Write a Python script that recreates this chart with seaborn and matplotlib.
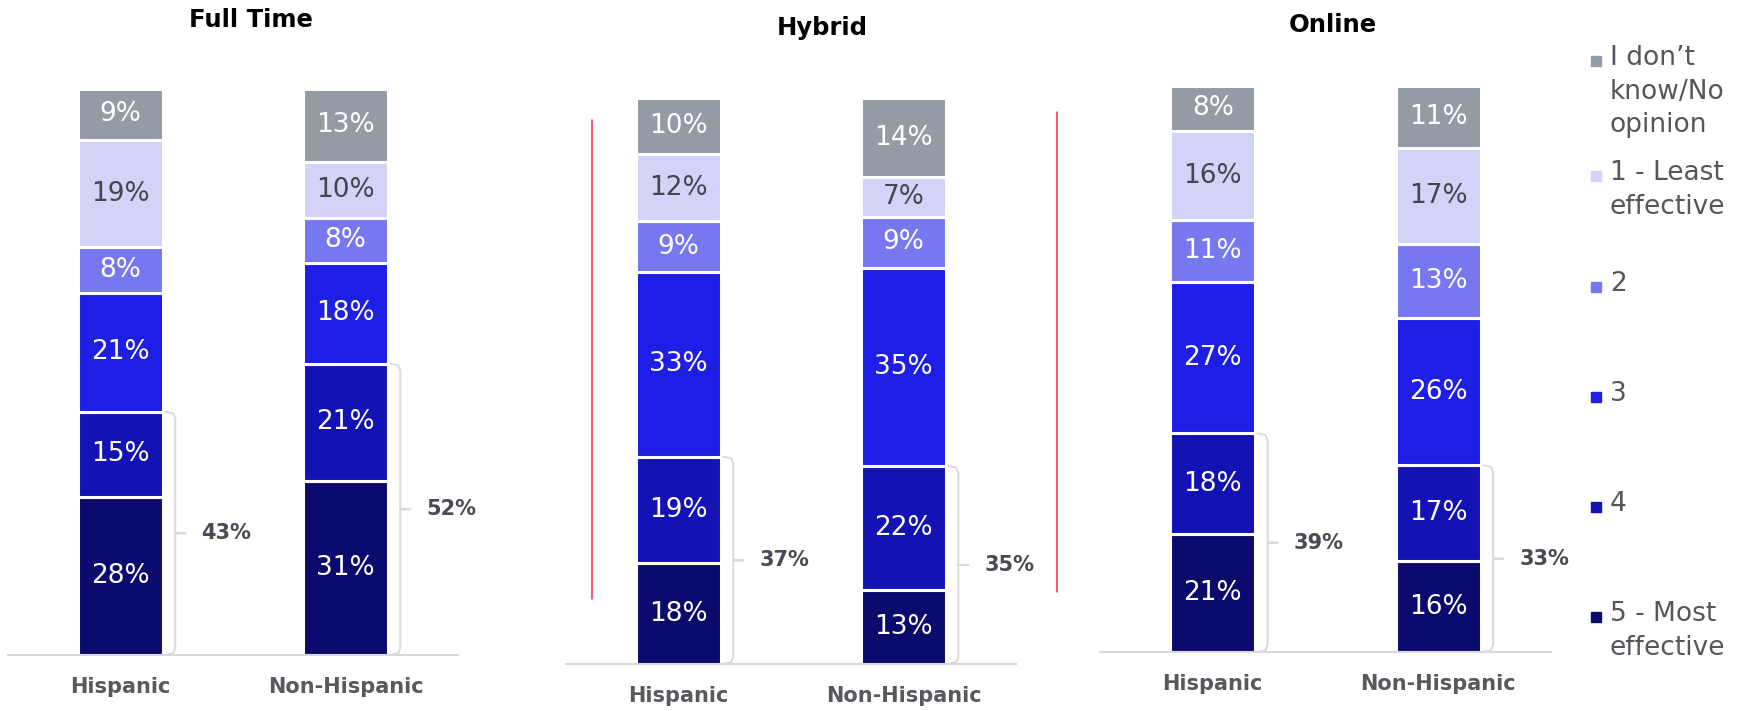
import numpy as np
import pandas as pd
import matplotlib
matplotlib.use('Agg')
import matplotlib.pyplot as plt
import seaborn as sns
from matplotlib.lines import Line2D
from matplotlib.patches import Rectangle

sns.set_style('white')
plt.rcParams['font.family'] = ['DejaVu Sans']

W, H = 1740, 711

groups = ['Hispanic', 'Non-Hispanic']
panels = ['Full Time', 'Hybrid', 'Online']
# stack order, bottom to top
levels = ['5 - Most\neffective', '4', '3', '2', '1 - Least\neffective',
          'I don\u2019t\nknow/No\nopinion']
colors = ['#0b0b6e', '#1313b5', '#1e1ee6', '#7777ef', '#d3d3f9', '#959ba5']
text_colors = ['white', 'white', 'white', 'white', '#45454d', 'white']

# % per level (bottom to top), [Hispanic, Non-Hispanic]
full_time = [[28, 31], [15, 21], [21, 18], [8, 8], [19, 10], [9, 13]]
hybrid = [[18, 13], [19, 22], [33, 35], [9, 9], [12, 7], [10, 14]]
online = [[21, 16], [18, 17], [27, 26], [11, 13], [16, 17], [8, 11]]
panel_data = [full_time, hybrid, online]

# panel placement in pixels: left, right, baseline, title position
layout = [
    dict(x0=8, x1=458, base=655, title=(251, 20)),
    dict(x0=566, x1=1016, base=664, title=(822, 28)),
    dict(x0=1100, x1=1551, base=652, title=(1333, 25)),
]
PX = 5.66      # pixels per percentage point
YMAX = 110
BW = 0.377

fig = plt.figure(figsize=(W / 100, H / 100), dpi=100)

for name, data, lay in zip(panels, panel_data, layout):
    ax = fig.add_axes([lay['x0'] / W, (H - lay['base']) / H,
                       (lay['x1'] - lay['x0']) / W, YMAX * PX / H])
    vals_arr = np.array(data, dtype=float)
    # rounded labels do not always add to 100; bars are drawn as 100% stacks
    heights = vals_arr / vals_arr.sum(axis=0) * 100
    bottom = np.zeros(len(groups))
    for k, (col, tcol) in enumerate(zip(colors, text_colors)):
        df = pd.DataFrame({'group': groups, 'share': heights[k]})
        sns.barplot(data=df, x='group', y='share', color=col, saturation=1,
                    width=BW, errorbar=None, bottom=bottom, edgecolor='white',
                    linewidth=2.2, ax=ax)
        for i, v in enumerate(data[k]):
            ax.text(i, bottom[i] + heights[k][i] / 2, f'{v}%', ha='center',
                    va='center', fontsize=19, color=tcol)
        bottom = bottom + heights[k]

    # brackets around the two top-box levels (4 and 5)
    for i in range(len(groups)):
        top = heights[0][i] + heights[1][i]
        mid = top / 2
        r = i + BW / 2
        xs = [r + 0.01, r + 0.045, r + 0.055, r + 0.055, r + 0.1, r + 0.055,
              r + 0.055, r + 0.045, r + 0.01]
        ys = [top, top - 0.3, top - 1.2, mid, mid, mid, 1.2, 0.3, 0]
        ax.plot(xs, ys, color='#dadada', lw=1.4, solid_capstyle='round')
        ax.text(r + 0.17, mid, f'{data[0][i] + data[1][i]}%', ha='left',
                va='center', fontsize=15, fontweight='bold', color='#4a4a55')

    ax.set_xlim(-0.5, 1.5)
    ax.set_ylim(0, YMAX)
    ax.set_xlabel('')
    ax.set_ylabel('')
    ax.set_yticks([])
    for s in ['top', 'left', 'right']:
        ax.spines[s].set_visible(False)
    ax.spines['bottom'].set_color('#d9d9d9')
    ax.spines['bottom'].set_linewidth(1.5)
    ax.tick_params(axis='x', length=0, pad=16)
    for t in ax.get_xticklabels():
        t.set_fontsize(15)
        t.set_fontweight('bold')
        t.set_color('#58585e')

    tx, ty = lay['title']
    fig.text(tx / W, 1 - ty / H, name, ha='center', va='center',
             fontsize=17.5, fontweight='bold', color='black')

# red separator lines
for x, y0, y1 in [(592, 120, 599), (1057, 112, 592)]:
    fig.add_artist(Line2D([x / W, x / W], [1 - y0 / H, 1 - y1 / H],
                          color='#e8303a', lw=1.1))

# legend, top entry first
legend_y = [61, 176, 287, 397, 507, 617]
for lvl, col, yc in zip(levels[::-1], colors[::-1], legend_y):
    fig.add_artist(Rectangle((1591 / W, 1 - (yc + 5) / H), 10 / W, 10 / H,
                             color=col, transform=fig.transFigure))
    fig.text(1610 / W, 1 - (yc - 16) / H, lvl, ha='left', va='top',
             fontsize=19, color='#55555c', linespacing=1.38)

fig.savefig('out.png', dpi=100)
